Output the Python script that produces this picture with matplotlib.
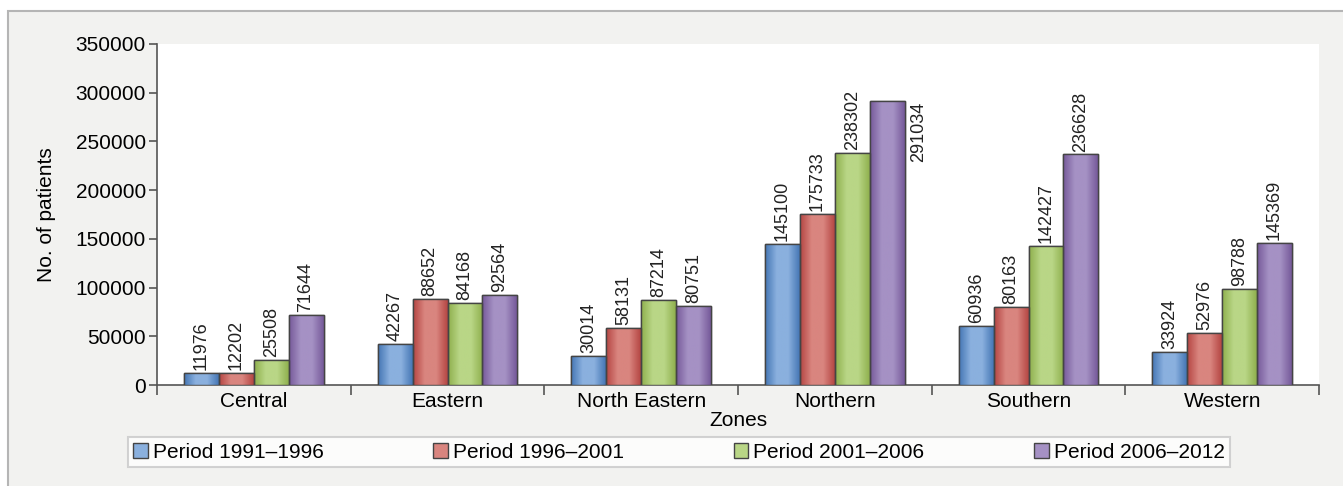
import numpy as np
import matplotlib.pyplot as plt
from matplotlib.colors import LinearSegmentedColormap
from matplotlib.patches import Rectangle

plt.rcParams.update({'font.family': ['Liberation Sans', 'DejaVu Sans'],
                     'font.size': 15})

zones = ['Central', 'Eastern', 'North Eastern', 'Northern', 'Southern', 'Western']
periods = ['Period 1991\u20131996', 'Period 1996\u20132001',
           'Period 2001\u20132006', 'Period 2006\u20132012']
p1991 = [11976, 42267, 30014, 145100, 60936, 33924]
p1996 = [12202, 88652, 58131, 175733, 80163, 52976]
p2001 = [25508, 84168, 87214, 238302, 142427, 98788]
p2006 = [71644, 92564, 80751, 291034, 236628, 145369]

# (edge shade, centre shade) for the cylinder-like fill
shades = [('#4577b5', '#8ab0de'),
          ('#b54643', '#d9857f'),
          ('#8fb04e', '#b9d686'),
          ('#765a9a', '#a591c4')]

fig = plt.figure(figsize=(13.43, 4.86), dpi=100, facecolor='white')
fig.patches.append(Rectangle((8 / 1343, -0.1), 1.2, 1.1 - 11 / 486,
                             transform=fig.transFigure, facecolor='#f2f2f0',
                             edgecolor='#b5b5b5', linewidth=1.5, zorder=-10))
ax = fig.add_axes([157 / 1343, 1 - 385 / 486, 1162 / 1343, 341 / 486])
ax.set_facecolor('white')

x = np.arange(len(zones))
w = 0.18
ymax = 350000
for i, (vals, lab) in enumerate(zip([p1991, p1996, p2001, p2006], periods)):
    dark, light = shades[i]
    cmap = LinearSegmentedColormap.from_list('c%d' % i, [dark, light, light, dark])
    pos = x + (i - 1.5) * w
    bars = ax.bar(pos, vals, w, color=light, edgecolor='#444444', linewidth=1,
                  label=lab, zorder=3)
    grad = np.linspace(0, 1, 64).reshape(1, -1)
    for b in bars:
        im = ax.imshow(grad, extent=[b.get_x(), b.get_x() + w, 0, b.get_height()],
                       aspect='auto', cmap=cmap, zorder=3.5)
        im.set_clip_path(b)
        ax.add_patch(Rectangle((b.get_x(), 0), w, b.get_height(), fill=False,
                               edgecolor='#444444', linewidth=1, zorder=4))
    for xp, v in zip(pos, vals):
        if v > 0.8 * ymax:
            ax.text(xp + 0.9 * w, v, str(v), rotation=90, ha='center', va='top',
                    fontsize=13, color='#222222')
        else:
            ax.text(xp, v + 3000, str(v), rotation=90, ha='center', va='bottom',
                    fontsize=13, color='#222222')

ax.set_xlim(-0.5, len(zones) - 0.5)
ax.set_ylim(0, ymax)
ax.set_yticks(np.arange(0, 350001, 50000))
ax.set_xticks(x)
ax.set_xticklabels(zones)
ax.set_xticks(np.arange(-0.5, len(zones)), minor=True)
ax.tick_params(axis='x', which='major', length=0, pad=5)
ax.tick_params(axis='x', which='minor', length=7, width=1.2, color='#555555')
ax.tick_params(axis='y', length=6, width=1.2, color='#555555', pad=2)
for s in ['top', 'right']:
    ax.spines[s].set_visible(False)
for s in ['left', 'bottom']:
    ax.spines[s].set_color('#555555')
    ax.spines[s].set_linewidth(1.2)
ax.set_xlabel('Zones', labelpad=0)
ax.set_ylabel('No. of patients', labelpad=14)

leg = fig.legend(loc='center', bbox_to_anchor=(679 / 1343, 1 - 452 / 486), ncol=4,
                 frameon=True, fancybox=False, handlelength=0.7, handleheight=0.7,
                 handletextpad=0.25, columnspacing=5.25, borderpad=0.25)
leg.get_frame().set_edgecolor('#c8c8c8')
leg.get_frame().set_linewidth(1.5)

fig.savefig('out.png', dpi=100, facecolor=fig.get_facecolor())
